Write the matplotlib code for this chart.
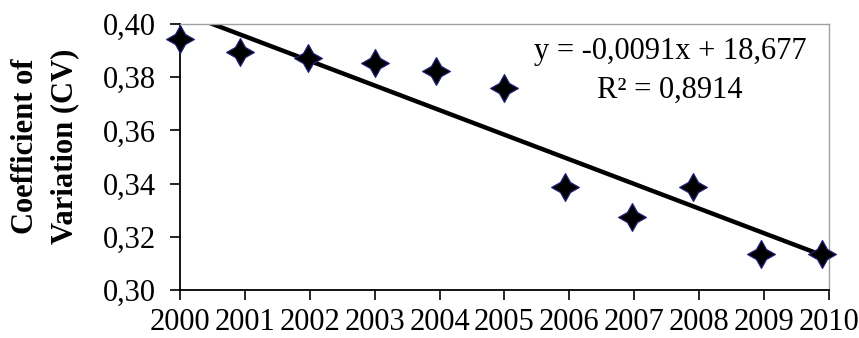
import numpy as np
import matplotlib.pyplot as plt
from matplotlib.path import Path

# coefficient of variation per year
years = [2000.0, 2000.92, 2001.97, 2003.0, 2003.95, 2005.0, 2005.93, 2006.97, 2007.9, 2008.96, 2009.9]
cv = [0.3944, 0.3896, 0.3871, 0.3852, 0.3824, 0.3758, 0.3388, 0.3276, 0.3388, 0.3135, 0.3135]
year_ticks = list(range(2000, 2011))
cv_ticks = [0.30, 0.32, 0.34, 0.36, 0.38, 0.40]

plt.rcParams['font.family'] = ['Liberation Serif', 'DejaVu Serif']

# four-pointed star marker
r = 0.36
star = Path([(0, 1), (r, r), (1, 0), (r, -r), (0, -1), (-r, -r), (-1, 0), (-r, r), (0, 1)],
            [Path.MOVETO] + [Path.LINETO] * 7 + [Path.CLOSEPOLY])

fig = plt.figure(figsize=(8.59, 3.38), dpi=100)
ax = fig.add_axes([0.2095, 0.142, 0.7555, 0.787])

slope, intercept = np.polyfit(years, cv, 1)
xs = np.array([years[0], years[-1]])
ax.plot(xs, slope * xs + intercept, color='black', lw=3.2, solid_capstyle='butt', zorder=2)
ax.plot(years, cv, linestyle='none', marker=star, markersize=20, clip_on=False,
        markerfacecolor='black', markeredgecolor='#22227a', markeredgewidth=0.9, zorder=3)

ax.set_xlim(2000, 2010)
ax.set_ylim(0.30, 0.40)
ax.set_xticks(year_ticks)
ax.set_xticklabels([str(y) for y in year_ticks])
ax.set_yticks(cv_ticks)
ax.set_yticklabels([f'{v:.2f}'.replace('.', ',') for v in cv_ticks])
ax.tick_params(axis='both', direction='out', length=7, width=1.2, labelsize=22)
ax.tick_params(axis='x', pad=6)
ax.tick_params(axis='y', pad=10)

for side in ['left', 'bottom']:
    ax.spines[side].set_color('black')
    ax.spines[side].set_linewidth(1.3)
for side in ['top', 'right']:
    ax.spines[side].set_color('#a0a0a0')
    ax.spines[side].set_linewidth(1.0)

ax.set_ylabel('Coefficient of\nVariation (CV)', fontsize=22, fontweight='bold',
              linespacing=1.45)
ax.yaxis.set_label_coords(-0.155, 0.54)

ax.text(0.755, 0.825, 'y = -0,0091x + 18,677\nR² = 0,8914', transform=ax.transAxes,
        ha='center', va='center', fontsize=22, linespacing=1.45)

fig.savefig('out.png', dpi=100)
